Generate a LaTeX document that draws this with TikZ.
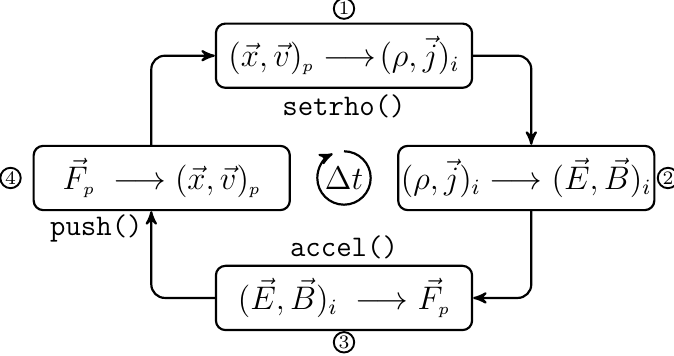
\documentclass[tikz,border=0pt]{standalone}
\usepackage{amsmath}
\usetikzlibrary{positioning,arrows}

\begin{document}
\begin{tikzpicture}[>=stealth',
  stage/.style={draw, thick, rounded corners=3.5pt, minimum width=3.31cm, minimum height=0.83cm, inner sep=0.5pt, font=\large},
  num/.style={circle, draw, line width=0.7pt, inner sep=0pt, minimum size=7.5pt, font=\scriptsize},
  fn/.style={font=\fontsize{11}{13}\selectfont\ttfamily, inner sep=1pt},
  flow/.style={->, thick, rounded corners=5pt}]
\useasboundingbox (-4.445,-2.30) rectangle (4.264,2.30);
%stages
\node[stage] (rho) at (0,1.58) {$(\vec{x},\vec{v})_{\scriptscriptstyle p}\longrightarrow\!(\rho,\vec{j})_i$};
\node[stage] (field) at (2.355,0) {$(\rho,\vec{j})_i\longrightarrow(\vec{E},\vec{B})_i$};
\node[stage] (accel) at (0,-1.55) {$(\vec{E},\vec{B})_i\;\longrightarrow\vec{F}_{\scriptscriptstyle p}$};
\node[stage] (push) at (-2.355,0) {$\vec{F}_{\scriptscriptstyle p}\;\longrightarrow(\vec{x},\vec{v})_{\scriptscriptstyle p}$};
%numbers
\node[num, above=1pt of rho] (n1) {1};
\node[num, right=0.5pt of field] (n2) {2};
\node[num, below=0pt of accel] (n3) {3};
\node[num, left=4pt of push] (n4) {4};
%routines
\node[fn, below=1pt of rho] (lrho) {setrho()};
\node[fn, above=1pt of accel] (laccel) {accel()};
\node[fn] (lpush) at (-3.20,-0.646) {push()};
%time step
\node[font=\large] (dt) at (0,0) {$\Delta t$};
\draw[->, thick] (90:0.345) arc (90:-245:0.345);
%loop
\draw[flow] ([xshift=-0.135cm]push.north) |- (rho.west);
\draw[flow] (rho.east) -| ([xshift=0.065cm]field.north);
\draw[flow] ([xshift=0.065cm]field.south) |- (accel.east);
\draw[flow] (accel.west) -| ([xshift=-0.135cm]push.south);
\end{tikzpicture}
\end{document}
